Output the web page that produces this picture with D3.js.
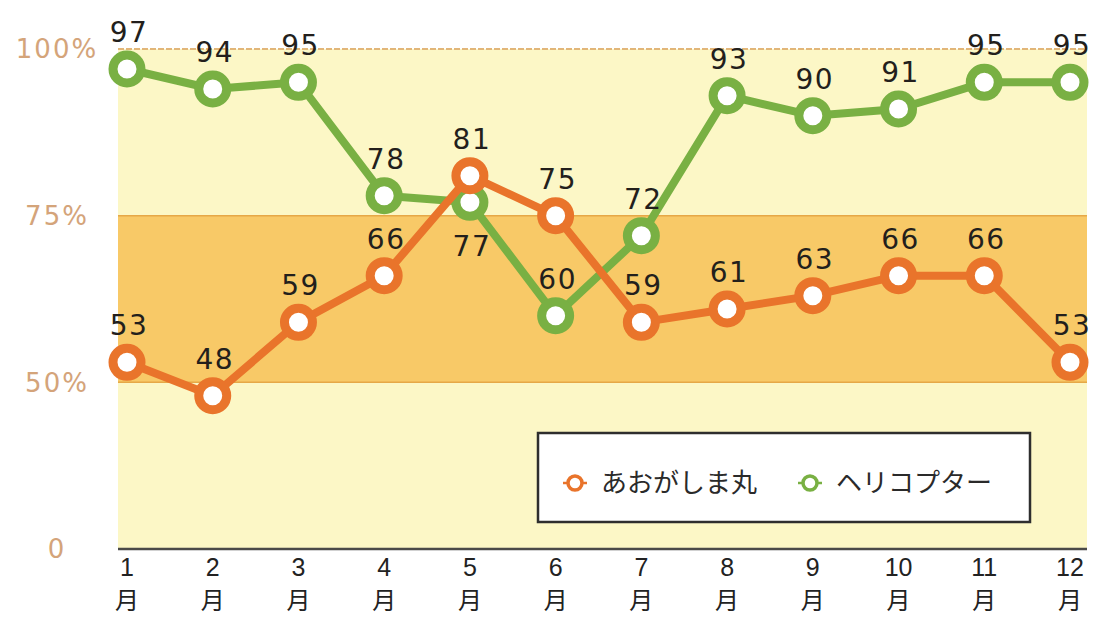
<!DOCTYPE html>
<html><head><meta charset="utf-8">
<script src="https://cdn.jsdelivr.net/npm/d3@7"></script>
<style>body{margin:0;background:#fff}svg{display:block}</style>
</head><body>
<svg id="c" width="1103" height="617"></svg>
<script>
const months = ["1","2","3","4","5","6","7","8","9","10","11","12"];
const monthSuffix = "月";
const aogashima = [53,48,59,66,81,75,59,61,63,66,66,53];
const heli = [97,94,95,78,77,60,72,93,90,91,95,95];
const seriesNames = ["あおがしま丸","ヘリコプター"];
const yTicks = [25,50,75,100];
const yTickLabels = ["0","50%","75%","100%"];
// label placement: 1 = above, -1 = below
const heliLabelPos = [1,1,1,1,-1,1,1,1,1,1,1,1];
const aoLabelPos = [1,1,1,1,1,1,1,1,1,1,1,1];

const svg = d3.select("#c");
const plotL = 118, plotR = 1087;
const x = d3.scalePoint().domain(months).range([127,1070]);
const y = d3.scaleLinear().domain([25,100]).range([549,49]);

const orange = "#e9742b", green = "#79b043";

// background bands
svg.append("rect").attr("x",plotL).attr("width",plotR-plotL)
  .attr("y",y(100)).attr("height",y(25)-y(100)).attr("fill","#fcf7c6");
svg.append("rect").attr("x",plotL).attr("width",plotR-plotL)
  .attr("y",y(75)).attr("height",y(50)-y(75)).attr("fill","#f8c967");

// grid lines
svg.append("line").attr("x1",plotL).attr("x2",plotR).attr("y1",y(100)).attr("y2",y(100))
  .attr("stroke","#e2b679").attr("stroke-width",2).attr("stroke-dasharray","6,2");
[75,50].forEach(v=>{
  svg.append("line").attr("x1",plotL).attr("x2",plotR).attr("y1",y(v)).attr("y2",y(v))
    .attr("stroke","#e6a847").attr("stroke-width",1.5);
});
// axis line
svg.append("line").attr("x1",plotL).attr("x2",plotR).attr("y1",y(25)).attr("y2",y(25))
  .attr("stroke","#4a4a48").attr("stroke-width",2.5);

// y labels
svg.selectAll(".ylab").data(yTicks).join("text")
  .attr("x",57).attr("y",d=>y(d)).attr("dy","0.36em")
  .attr("text-anchor","middle")
  .attr("font-family","DejaVu Sans, sans-serif").attr("font-size",26)
  .attr("letter-spacing",2)
  .attr("fill","#d4a47a")
  .text((d,i)=>yTickLabels[i]);

// x labels: number stacked above 月
const xl = svg.selectAll(".xl").data(months).join("g");
xl.append("text").attr("x",d=>x(d)).attr("y",576).attr("text-anchor","middle")
  .attr("font-family","Liberation Sans, Arial, sans-serif").attr("font-size",25)
  .attr("fill","#222").text(d=>d);
xl.append("text").attr("x",d=>x(d)).attr("y",609).attr("text-anchor","middle")
  .attr("font-family","Noto Sans CJK JP, sans-serif").attr("font-size",24)
  .attr("fill","#222").text(monthSuffix);

// series
function drawSeries(vals, color, pos){
  const line = d3.line().x((d,i)=>x(months[i])).y(d=>y(d));
  svg.append("path").datum(vals).attr("d",line).attr("fill","none")
    .attr("stroke",color).attr("stroke-width",8).attr("stroke-linejoin","round");
  svg.append("g").selectAll("circle").data(vals).join("circle")
    .attr("cx",(d,i)=>x(months[i])).attr("cy",d=>y(d)).attr("r",14)
    .attr("fill","#fff").attr("stroke",color).attr("stroke-width",9);
  svg.append("g").selectAll("text").data(vals).join("text")
    .attr("x",(d,i)=>x(months[i])+2)
    .attr("y",(d,i)=>pos[i]>0 ? y(d)-27 : y(d)+54)
    .attr("text-anchor","middle")
    .attr("font-family","DejaVu Sans, sans-serif").attr("font-size",28)
    .attr("letter-spacing",1.5)
    .attr("fill","#231f1c")
    .text(d=>d);
}
drawSeries(heli, green, heliLabelPos);
drawSeries(aogashima, orange, aoLabelPos);

// legend
const lg = svg.append("g");
lg.append("rect").attr("x",538).attr("y",433).attr("width",492).attr("height",89)
  .attr("fill","#fff").attr("stroke","#2e2e2e").attr("stroke-width",2.5);
const items = [{name:seriesNames[0], color:orange, mx:575, tx:601},
               {name:seriesNames[1], color:green, mx:810, tx:836}];
items.forEach(it=>{
  lg.append("line").attr("x1",it.mx-12).attr("x2",it.mx+12).attr("y1",483).attr("y2",483)
    .attr("stroke",it.color).attr("stroke-width",2.5);
  lg.append("circle").attr("cx",it.mx).attr("cy",483).attr("r",7)
    .attr("fill","#fff").attr("stroke",it.color).attr("stroke-width",3.5);
  lg.append("text").attr("x",it.tx).attr("y",483).attr("dy","0.36em")
    .attr("font-family","Noto Sans CJK JP, sans-serif").attr("font-size",26)
    .attr("fill","#2a2a2a").text(it.name);
});
</script>
</body></html>
